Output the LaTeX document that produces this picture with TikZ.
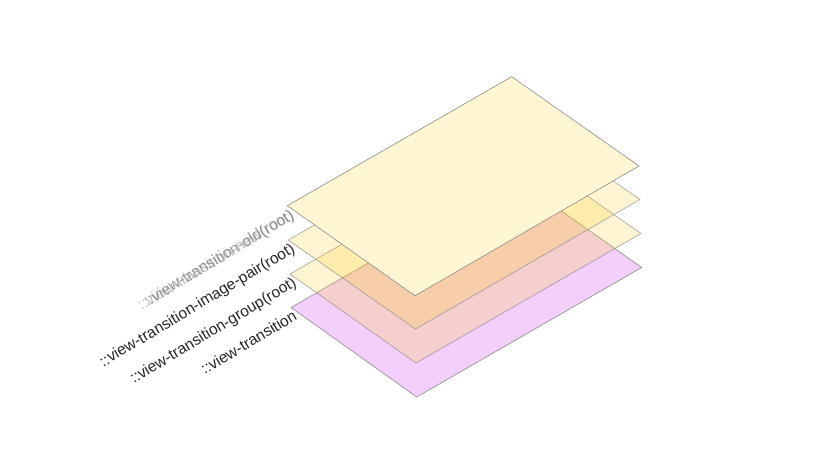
\documentclass[tikz,border=0pt]{standalone}
\usepackage{fontspec}
\setmainfont{Liberation Sans}
\definecolor{topyel}{RGB}{255,246,212}
\definecolor{goldish}{RGB}{255,204,30}
\definecolor{lilac}{RGB}{243,207,251}
\begin{document}
\begin{tikzpicture}[x=1pt,y=-1pt,
  plane/.style={draw=black!45, line width=0.6pt, line join=round},
  glass/.style={plane, fill=goldish, fill opacity=0.2, draw opacity=0.8},
  lbl/.style={rotate=31, anchor=base east, inner sep=0pt,
    font=\fontsize{15.6}{18}\selectfont, text=black!85}]
\useasboundingbox (0,0) rectangle (817,450);
% bottom layer: ::view-transition
\draw[plane, fill=lilac] (291,307.5) -- (515.4,178.5) -- (641.7,267.5) -- (416.7,397) -- cycle;
% ::view-transition-group(root)
\draw[glass] (290,274) -- (514.4,145) -- (641,233.5) -- (416,363) -- cycle;
% ::view-transition-image-pair(root)
\draw[glass] (288.3,240) -- (512.7,111) -- (640,199.5) -- (415.5,329) -- cycle;
% ::view-transition-old/new(root)
\draw[plane, fill=topyel] (287.3,205.7) -- (511.7,76.7) -- (639,166) -- (415,295.7) -- cycle;
% labels
\node[lbl, text=black!55, text opacity=0.7] (old) at (295,218) {::view-transition-old(root)};
\node[lbl, text=black!55, text opacity=0.45] (new) at (295.6,218.4) {::view-transition-new(root)};
\node[lbl] (pair) at (296,251.5) {::view-transition-image-pair(root)};
\node[lbl] (group) at (297.5,285.5) {::view-transition-group(root)};
\node[lbl] (vt) at (298,319) {::view-transition};
\end{tikzpicture}
\end{document}
